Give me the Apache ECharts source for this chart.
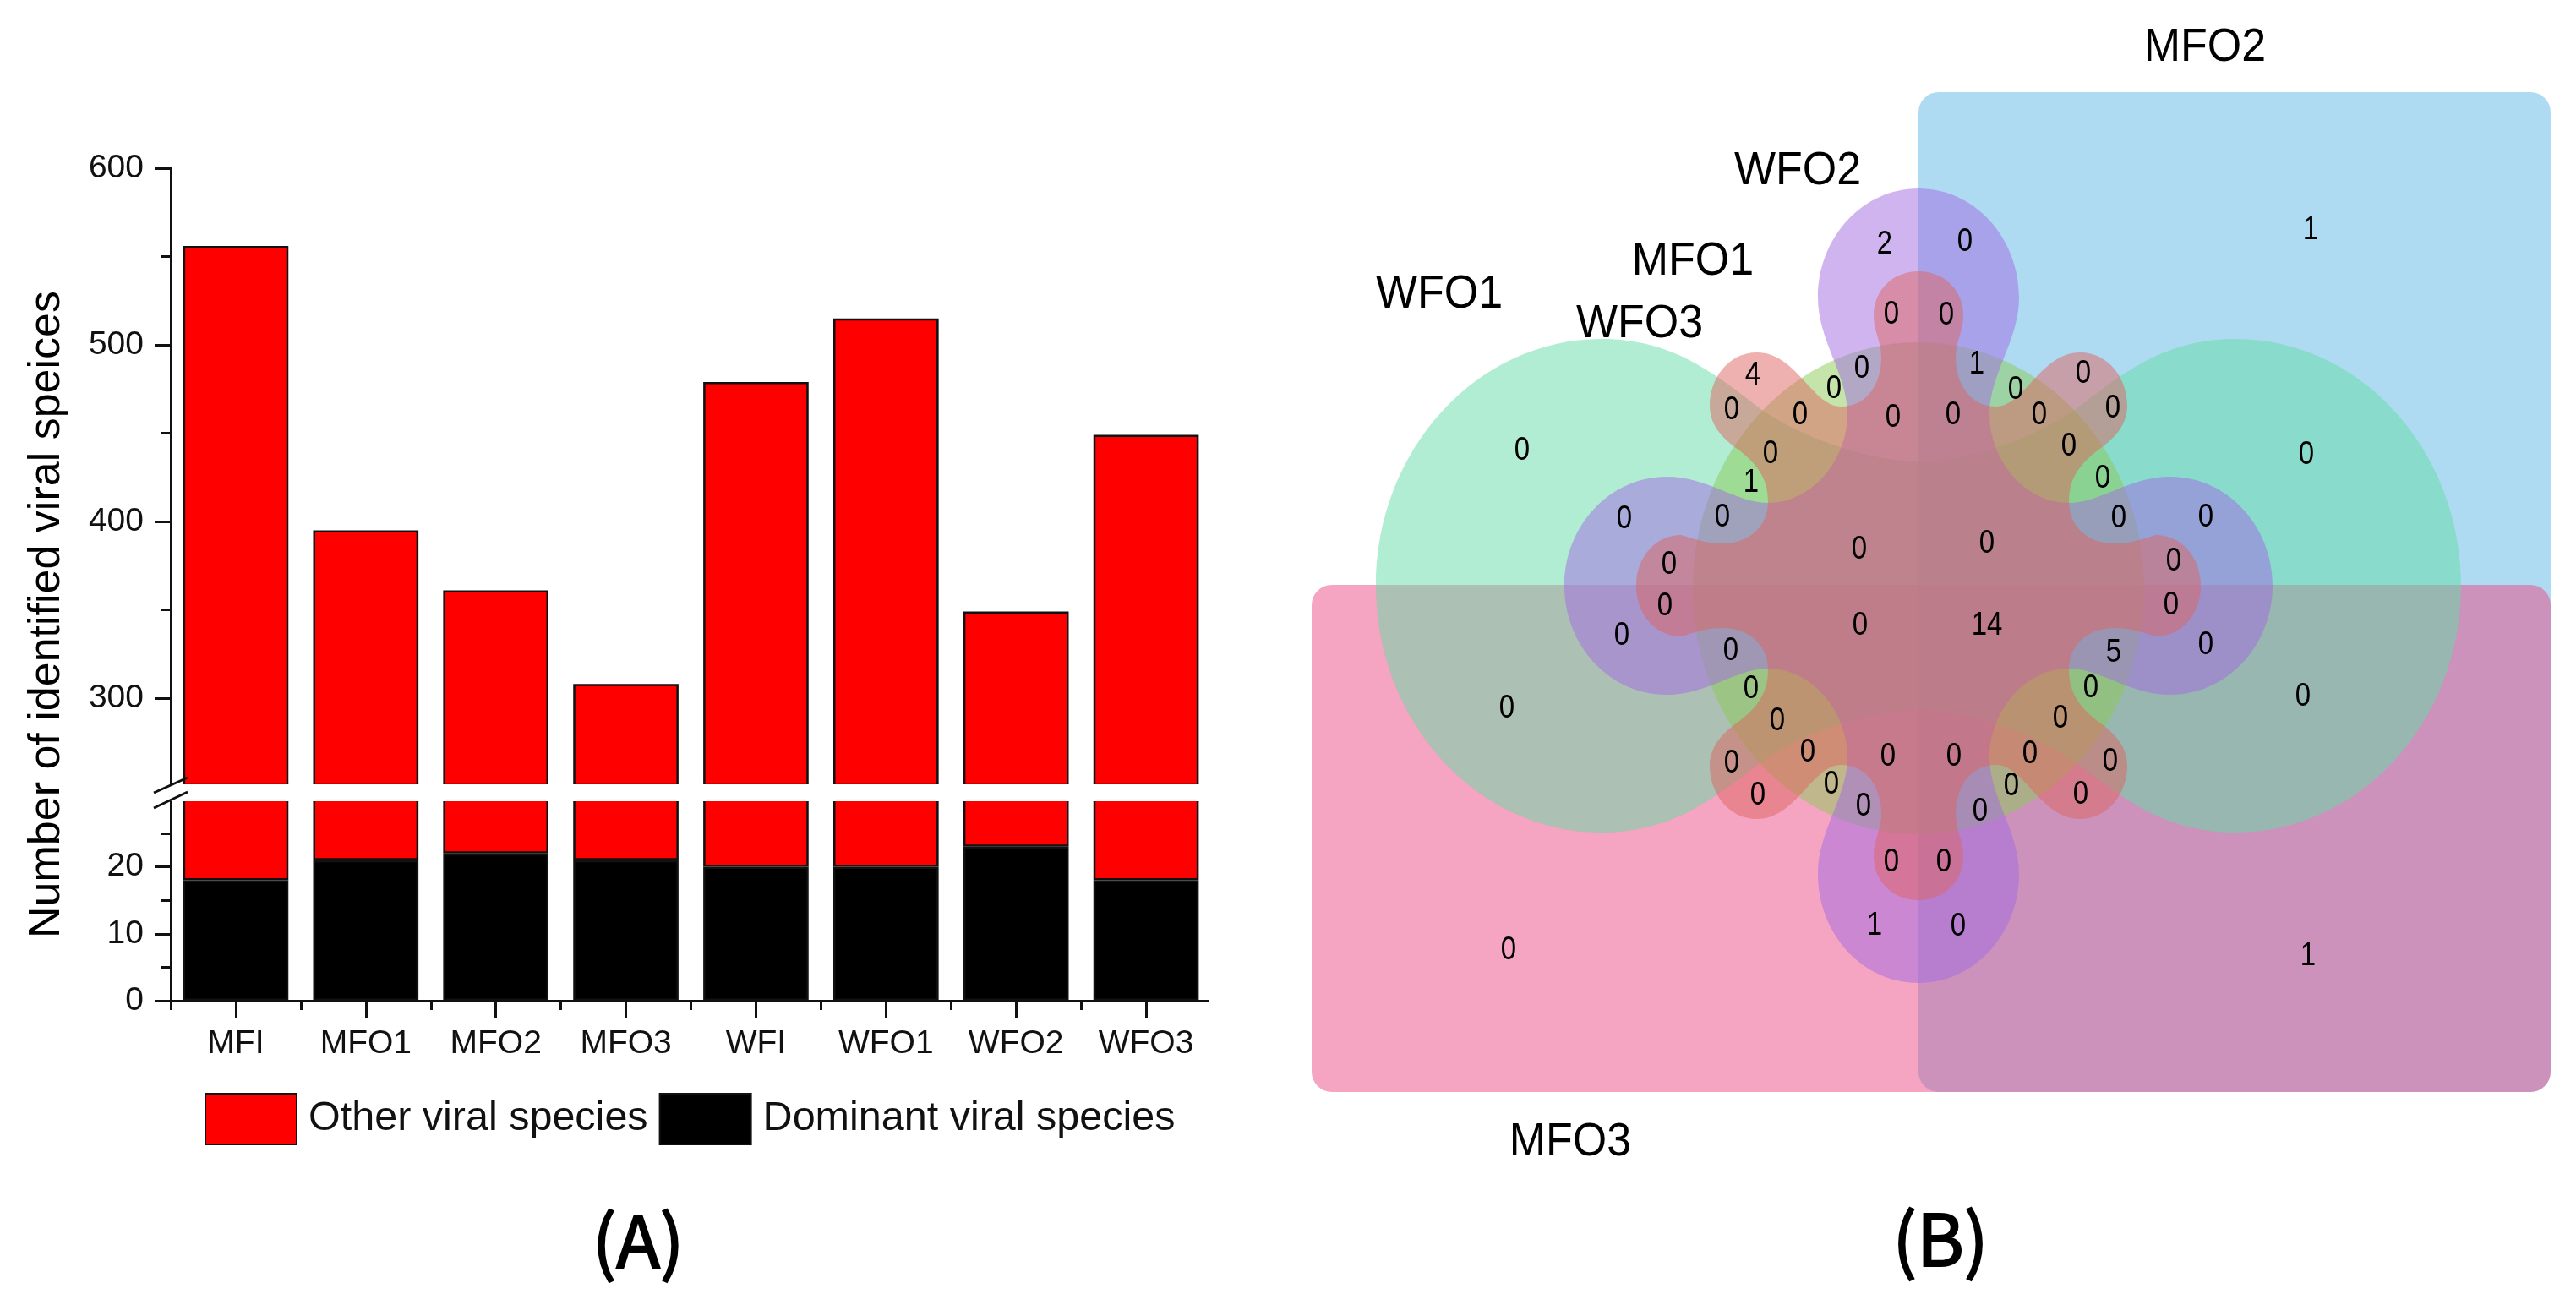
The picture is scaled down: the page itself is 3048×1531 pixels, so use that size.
<!DOCTYPE html>
<html>
<head>
<meta charset="utf-8">
<style>html,body{margin:0;padding:0;background:#fff}#c{width:3048px;height:1531px}</style>
<script src="https://cdn.jsdelivr.net/npm/echarts@6/dist/echarts.min.js"></script>
</head>
<body>
<div id="c"></div>
<script>
// ---- Panel A data ----
const categories = ['MFI','MFO1','MFO2','MFO3','WFI','WFO1','WFO2','WFO3'];
const dominantSpecies = [18,21,22,21,20,20,23,18];
const otherSpecies = [538,374,339,287,459,495,326,431];
const upperMajorTicks = [300,400,500,600];
const upperMinorTicks = [350,450,550];
const lowerMajorTicks = [0,10,20];
const lowerMinorTicks = [5,15,25];
const seriesNames = ['Other viral species','Dominant viral species'];

// ---- Panel B data ----
const vennCounts = [
 1,2,0,0,0,4,0,1,0,0,0,0,0,0,0,0,0,0,0,0,0,1,0,0,0,0,0,0,0,0,0,0,0,0,0,0,14,0,5,
 0,0,0,0,0,0,0,0,0,0,0,0,0,0,0,0,0,0,0,0,1,0,0,1];
const vennCellX = [
 2734,2230,2325,2238,2303,2074,2203,2339,2465,2170,2385,2049,2130,2240,2311,2413,2500,1801,2729,2095,2448,2072,2488,1922,2038,2507,2610,2200,2351,1975,2572,1970,2569,1919,2610,2201,2351,2048,2501,
 1783,2725,2072,2474,2103,2438,2139,2234,2312,2402,2049,2497,2167,2380,2080,2462,2205,2343,2238,2300,2218,2317,1785,2731];
const vennCellY = [
 270,287,284,370,371,442,434,429,440,458,459,483,489,492,489,489,481,531,536,535,526,569,564,612,610,611,610,648,641,666,662,715,714,750,761,738,738,768,770,
 836,822,813,812,851,848,888,893,893,890,901,899,926,928,939,938,952,958,1018,1018,1093,1094,1122,1129];

const FONT = '"Liberation Sans", Arial, sans-serif';
const INK = '#111';
const GRID_LEFT = 202, GRID_WIDTH = 1231;

// Venn shapes: one quadrant (top → left), mirrored into a closed outline
const VC = [2270, 693];
const greenQuad  = [[0,-147],[-50,-147,-130,-170,-185,-208],[-240,-250,-290,-292,-375,-292],[-522,-292,-642,-161,-642,0]];
const centerEllipse = {cy:696, rx:267, ry:291};
const purpleQuad = [[0,-470],[-66,-470,-119,-412,-119,-341],[-119,-290,-84,-250,-84,-203],[-84,-150,-125,-98,-178,-98],[-215,-98,-250,-129,-298,-129],[-365,-129,-419,-71,-419,0]];
const starQuad = [[0,-372],[-30,-372,-53,-350,-53,-320],[-53,-300,-44,-290,-44,-270],[-44,-240,-60,-212,-92,-212],[-125,-212,-145,-276,-191,-276],[-225,-276,-247,-245,-247,-213],[-247,-190,-232,-175,-216,-163],[-195,-148,-178,-130,-178,-100],[-178,-70,-200,-50,-232,-50],[-250,-50,-265,-55,-281,-60],[-310,-60,-334,-35,-334,0]];

const vennShapes = [
 {kind:'rect', x:2270, y:109, w:748, h:1183, r:24, fill:'rgba(93,183,229,0.5)'},
 {kind:'rect', x:1552, y:692, w:1466, h:600, r:24, fill:'rgba(235,73,133,0.5)'},
 {kind:'quad', quad:greenQuad, fill:'rgba(99,219,165,0.5)'},
 {kind:'ellipse', fill:'rgba(139,201,85,0.5)'},
 {kind:'quad', quad:purpleQuad, fill:'rgba(161,105,225,0.5)'},
 {kind:'quad', quad:starQuad, fill:'rgba(222,100,95,0.5)'}
];

function quadToPath(q, coord){
  const flat = [];
  q.forEach(seg=>{ for(let i=0;i<seg.length;i+=2) flat.push([seg[i],seg[i+1]]); });
  const seq = [];
  const add = (pts)=>{ pts.forEach((p,i)=>{ if(seq.length===0||i>0) seq.push(p); }); };
  add(flat);
  add(flat.slice().reverse().map(p=>[p[0],-p[1]]));
  add(flat.map(p=>[-p[0],-p[1]]));
  add(flat.slice().reverse().map(p=>[-p[0],p[1]]));
  const abs = seq.map(p=>coord([VC[0]+p[0],VC[1]+p[1]]));
  let d = 'M'+abs[0][0]+' '+abs[0][1];
  for(let i=1;i+2<abs.length;i+=3){
    d += 'C'+abs[i][0]+' '+abs[i][1]+' '+abs[i+1][0]+' '+abs[i+1][1]+' '+abs[i+2][0]+' '+abs[i+2][1];
  }
  return d+'Z';
}

function renderVenn(params, api){
  const s = vennShapes[params.dataIndex];
  const style = {fill:s.fill, stroke:null};
  if(s.kind==='rect'){
    const a = api.coord([s.x,s.y]), b = api.coord([s.x+s.w,s.y+s.h]);
    return {type:'rect', shape:{x:a[0],y:a[1],width:b[0]-a[0],height:b[1]-a[1],r:s.r}, style};
  }
  if(s.kind==='ellipse'){
    const c = api.coord([VC[0],centerEllipse.cy]);
    return {type:'ellipse', shape:{cx:c[0],cy:c[1],rx:centerEllipse.rx,ry:centerEllipse.ry}, style};
  }
  return {type:'path', shape:{pathData:quadToPath(s.quad, api.coord)}, style};
}

function renderCount(params, api){
  const p = api.coord([api.value(0), api.value(1)]);
  return {type:'text', x:p[0], y:p[1]+2, scaleY:1.18,
    style:{text:String(api.value(2)), font:'33px '+FONT, fill:'#000', align:'center', verticalAlign:'middle'}};
}

function barSeries(name, data, xi, yi, stack, color, z){
  return {name, type:'bar', data, stack, xAxisIndex:xi, yAxisIndex:yi, barWidth:'81%',
    itemStyle:{color, borderColor:INK, borderWidth:2.5}, z, clip:true, silent:true};
}

function textEl(text, x, y, size, opts){
  opts = opts || {};
  const style = {text, fill:'#000', font:'normal '+size+'px '+(opts.family||FONT),
      align:'center', verticalAlign:'middle'};
  if(opts.heavy){ style.stroke = '#000'; style.lineWidth = opts.heavy; }
  return Object.assign({type:'text', x, y, silent:true, z:50, style}, opts.extra);
}

const axisLine = {show:true, onZero:false, lineStyle:{color:INK, width:3}};
function tickAxis(gridIndex, min, max, ticks, labels, length){
  return {type:'value', gridIndex, min, max, position:'left', scale:true,
    axisLine, splitLine:{show:false},
    axisTick:{show:true, length, lineStyle:{color:INK,width:3}, customValues:ticks},
    axisLabel:labels ? {show:true, customValues:ticks, margin:32, fontSize:39, fontFamily:FONT, color:INK} : {show:false}};
}

// The two panels of the y axis overlap behind the white break band, which hides their cut edges
const UPPER_MIN = 242.1, LOWER_MAX = 32.2;
const nameStretch = {scaleY:1.08};
const panelFont = '"Noto Sans CJK SC", sans-serif';

const chart = echarts.init(document.getElementById('c'), null, {renderer:'canvas'});
chart.setOption({
  animation:false,
  backgroundColor:'#fff',
  tooltip:{show:false},
  grid:[
    {left:GRID_LEFT, top:199, width:GRID_WIDTH, height:748},
    {left:GRID_LEFT, top:929, width:GRID_WIDTH, height:255},
    {left:0, top:0, width:3048, height:1531}
  ],
  legend:{
    data:seriesNames, left:237, top:1288, itemWidth:108, itemHeight:60, itemGap:13,
    selectedMode:false, icon:'rect',
    textStyle:{fontSize:48.5, fontFamily:FONT, color:INK, padding:[0,0,0,9]}
  },
  xAxis:[
    {type:'category', gridIndex:0, data:categories, show:false},
    {type:'category', gridIndex:1, data:categories, position:'bottom',
      axisLine, axisTick:{show:true, length:11, alignWithLabel:false, lineStyle:{color:INK,width:3}},
      axisLabel:{show:true, margin:32, fontSize:39, fontFamily:FONT, color:INK, interval:0}},
    {type:'category', gridIndex:1, data:categories, position:'bottom',
      axisLine:{show:false}, axisTick:{show:true, length:20, alignWithLabel:true, lineStyle:{color:INK,width:3}},
      axisLabel:{show:false}},
    {type:'value', gridIndex:2, min:0, max:3048, show:false}
  ],
  yAxis:[
    tickAxis(0,UPPER_MIN,600,upperMajorTicks,true,19),
    tickAxis(0,UPPER_MIN,600,upperMinorTicks,false,11),
    tickAxis(1,0,LOWER_MAX,lowerMajorTicks,true,19),
    tickAxis(1,0,LOWER_MAX,lowerMinorTicks,false,11),
    {type:'value', gridIndex:2, min:0, max:1531, inverse:true, show:false}
  ],
  series:[
    barSeries(seriesNames[1], dominantSpecies, 0, 0, 'u', '#000', 2),
    barSeries(seriesNames[0], otherSpecies, 0, 0, 'u', '#ff0000', 2),
    barSeries(seriesNames[1], dominantSpecies, 1, 2, 'l', '#000', 2),
    barSeries(seriesNames[0], otherSpecies, 1, 2, 'l', '#ff0000', 2),
    {type:'custom', xAxisIndex:3, yAxisIndex:4, silent:true, z:1, clip:false,
      data:vennShapes.map((s,i)=>[i,i]), renderItem:renderVenn},
    {type:'custom', xAxisIndex:3, yAxisIndex:4, silent:true, z:5, clip:false,
      data:vennCounts.map((v,i)=>[vennCellX[i],vennCellY[i],v]), renderItem:renderCount,
      encode:{x:0,y:1}}
  ],
  graphic:{elements:[
    // white band of the axis break, and the short overrun of the x axis
    {type:'rect', silent:true, z:55, shape:{x:194,y:928,width:1250,height:20}, style:{fill:'#fff'}},
    {type:'rect', silent:true, z:55, shape:{x:1431,y:1175,width:10,height:25}, style:{fill:'#fff'}},
    // axis break marks
    {type:'line', silent:true, z:60, shape:{x1:182,y1:938,x2:222,y2:920}, style:{stroke:INK,lineWidth:3}},
    {type:'line', silent:true, z:60, shape:{x1:182,y1:956,x2:222,y2:937}, style:{stroke:INK,lineWidth:3}},
    textEl('Number of identified viral speices', 56, 727, 52, {extra:{rotation:Math.PI/2}}),
    textEl('MFO2', 2609, 57, 52, {extra:nameStretch}),
    textEl('WFO2', 2127, 203, 52, {extra:nameStretch}),
    textEl('MFO1', 2003, 310, 52, {extra:nameStretch}),
    textEl('WFO1', 1703, 349, 52, {extra:nameStretch}),
    textEl('WFO3', 1940, 384, 52, {extra:nameStretch}),
    textEl('MFO3', 1858, 1352, 52, {extra:nameStretch}),
    textEl('(A)', 755, 1468, 85, {family:panelFont, heavy:2}),
    textEl('(B)', 2296, 1466, 85, {family:panelFont, heavy:2})
  ]}
});
</script>
</body>
</html>
